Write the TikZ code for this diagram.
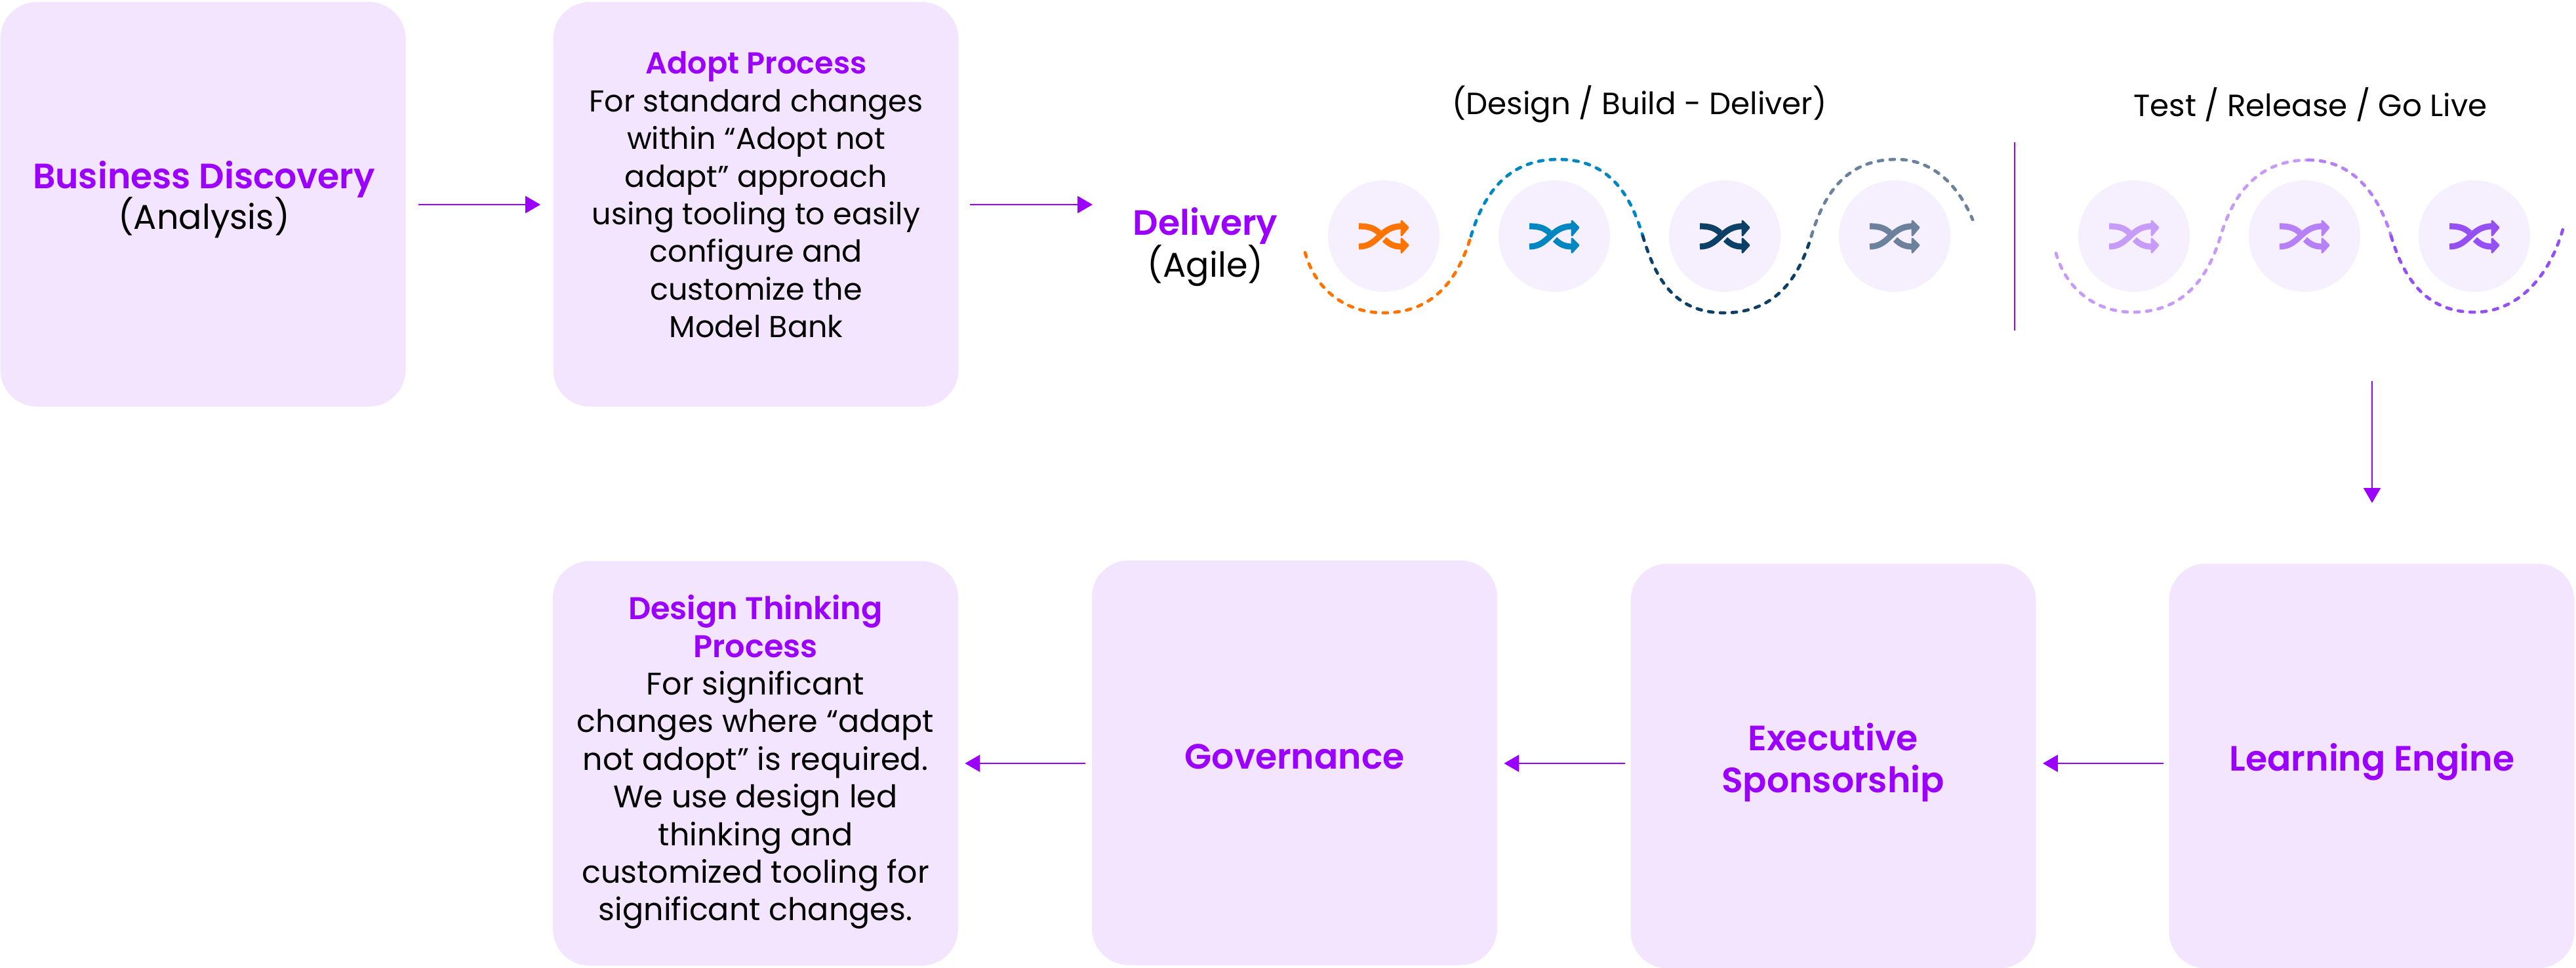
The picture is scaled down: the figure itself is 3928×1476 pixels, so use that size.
\documentclass[tikz,border=0pt]{standalone}
\usepackage{fontspec}
\setmainfont{Poppins}
\newfontfamily\popsemi{Poppins SemiBold}
\usetikzlibrary{arrows.meta}
\definecolor{boxfill}{HTML}{F2E5FD}
\definecolor{brand}{HTML}{9B00FF}
\definecolor{disc}{HTML}{F6F0FE}
\definecolor{wOrange}{HTML}{FF7300}
\definecolor{wBlue}{HTML}{0087C1}
\definecolor{wNavy}{HTML}{0D4066}
\definecolor{wGrey}{HTML}{6C819B}
\definecolor{wLight}{HTML}{C79BF8}
\definecolor{wMid}{HTML}{B681F6}
\definecolor{wDark}{HTML}{9450F2}
\newcommand\bodyfont{\fontsize{23.05}{28.7}\selectfont}
\newcommand\bodylarge{\fontsize{23.8}{28.7}\selectfont}
\newcommand\labelfont{\fontsize{23.4}{28.7}\selectfont}
\newcommand\headin{\fontsize{23.1}{28.7}\popsemi\selectfont}
\newcommand\headlarge{\fontsize{23.9}{28.7}\popsemi\selectfont}
\newcommand\bigfont{\fontsize{26.2}{31}\normalfont\selectfont}
\newcommand\bighead{\fontsize{26.8}{31}\popsemi\selectfont}
\newcommand\shufficon[2]{%
  \begin{scope}[shift={(#1)}]
    \draw[#2,line width=4.6pt] (-38,16) .. controls (-8,16) and (-6,-15) .. (27,-15);
    \draw[#2,line width=4.6pt] (-38,-15) .. controls (-22,-15) and (-15,-12) .. (-7,-5);
    \draw[#2,line width=4.6pt] (1,5) .. controls (8,12) and (15,16) .. (27,16);
    \fill[#2,draw=#2,line width=1.4pt,line join=round] (27,-23) -- (37,-13) -- (27,-1) -- cycle;
    \fill[#2,draw=#2,line width=1.4pt,line join=round] (27,4) -- (37,14) -- (27,25) -- cycle;
  \end{scope}}
\tikzset{
  panel/.style={fill=boxfill,draw=none,rounded corners=28pt,minimum width=309pt,minimum height=308.5pt,inner sep=0pt,anchor=center},
  bubble/.style={circle,fill=disc,draw=none,minimum size=85pt,inner sep=0pt},
  flow/.style={draw=brand,line width=1.2pt,-{Triangle[length=11.5pt,width=13pt]}},
  wave/.style={line width=2.4pt,line cap=round,dash pattern=on 3.5pt off 5.5pt},
  tight/.style={align=center,inner sep=0pt,execute at begin node={\lineskiplimit=-50pt}},
  txt/.style={tight,text=black,font=\bodyfont},
  txtl/.style={tight,text=black,font=\bodylarge},
  lab/.style={tight,text=black,font=\labelfont},
  big/.style={tight,text=black,font=\bighead},
  ttl/.style={tight,text=brand,font=\bighead},
}
\begin{document}
\begin{tikzpicture}[x=0.5pt,y=-0.5pt]
\path[use as bounding box] (0,0) rectangle (3928,1476);
% panels
\node[panel] (discovery) at (309.5,311.5) {};
\node[panel] (adopt) at (1152.5,311.5) {};
\node[panel] (design) at (1152,1164) {};
\node[panel] (gov) at (1974,1163) {};
\node[panel] (exec) at (2795.5,1168) {};
\node[panel] (learn) at (3616.5,1168) {};
% panel texts
\node[big] (t1) at (311,304) {\textcolor{brand}{Business Discovery}\\{\bigfont (Analysis)}};
\node[txt] (t2) at (1153,297) {{\headin\textcolor{brand}{Adopt Process}}\\For standard changes\\within “Adopt not\\adapt” approach\\using tooling to easily\\configure and\\customize the\\Model Bank};
\node[txtl] (t3) at (1152,1162) {{\headlarge\textcolor{brand}{Design Thinking}}\\{\headlarge\textcolor{brand}{Process}}\\For significant\\changes where “adapt\\not adopt” is required.\\We use design led\\thinking and\\customized tooling for\\significant changes.};
\node[ttl] (t4) at (1974,1154) {Governance};
\node[ttl] (t5) at (2795,1163) {Executive\\[1pt]Sponsorship};
\node[ttl] (t6) at (3617,1162) {Learning Engine};
\node[big] (t7) at (1838,377) {\textcolor{brand}{Delivery}\\[1pt]{\bigfont (Agile)}};
\node[lab] (t8) at (2500,159) {(Design / Build - Deliver)};
\node[lab] (t9) at (3523,159) {Test / Release / Go Live};
% discs
\foreach \nm/\cx in {d1/2110,d2/2370,d3/2630,d4/2889,d5/3254,d6/3514,d7/3773}{
  \node[bubble] (\nm) at (\cx,360) {};
}
% icons
\shufficon{d1}{wOrange}
\shufficon{d2}{wBlue}
\shufficon{d3}{wNavy}
\shufficon{d4}{wGrey}
\shufficon{d5}{wLight}
\shufficon{d6}{wMid}
\shufficon{d7}{wDark}
% waves
\draw[wave,wOrange] (1990,385) .. controls (2005,440) and (2050,477) .. (2110,477)
   .. controls (2190,477) and (2225,420) .. (2243,360);
\draw[wave,wBlue] (2243,360) .. controls (2261,300) and (2296,243) .. (2376,243)
   .. controls (2456,243) and (2487,300) .. (2505,360);
\draw[wave,wNavy] (2505,360) .. controls (2523,420) and (2550,477) .. (2629,477)
   .. controls (2710,477) and (2744,420) .. (2762,360);
\draw[wave,wGrey] (2762,360) .. controls (2780,300) and (2812,243) .. (2892,243)
   .. controls (2945,243) and (2985,280) .. (3008,335);
\draw[wave,wLight] (3135,386) .. controls (3150,440) and (3195,476) .. (3252,476)
   .. controls (3332,476) and (3368,420) .. (3386,360)
   .. controls (3404,300) and (3440,244) .. (3520,244);
\draw[wave,wMid] (3520,244) .. controls (3590,244) and (3628,300) .. (3646,360);
\draw[wave,wDark] (3646,360) .. controls (3664,420) and (3696,476) .. (3773,476)
   .. controls (3840,476) and (3890,420) .. (3910,342);
% divider
\coordinate (divtop) at (3072,217);
\coordinate (divbot) at (3072,504);
\draw[brand,line width=1.2pt] (divtop) -- (divbot);
% connectors
\coordinate (rowa) at (0,312);
\coordinate (rowb) at (0,1164);
\coordinate (deliv) at (1666,312);
\coordinate (downstart) at (3617,581);
\coordinate (downend) at (3617,767);
\draw[flow,shorten <=9.5pt,shorten >=9.5pt] (discovery.east |- rowa) -- (adopt.west |- rowa);
\draw[flow,shorten <=8.5pt] (adopt.east |- rowa) -- (deliv);
\draw[flow] (downstart) -- (downend);
\draw[flow,shorten <=4pt,shorten >=5pt] (learn.west |- rowb) -- (exec.east |- rowb);
\draw[flow,shorten <=4pt,shorten >=5pt] (exec.west |- rowb) -- (gov.east |- rowb);
\draw[flow,shorten <=5pt,shorten >=5pt] (gov.west |- rowb) -- (design.east |- rowb);
\end{tikzpicture}
\end{document}
